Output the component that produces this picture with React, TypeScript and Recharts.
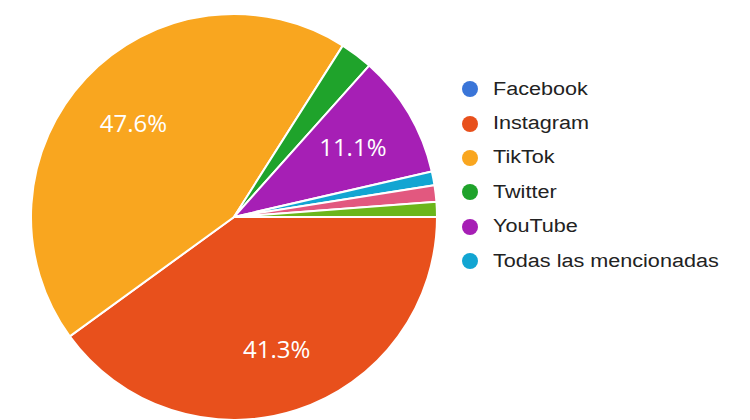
import { PieChart, Pie, Cell, Legend } from "recharts";

const names = ["Facebook", "Instagram", "TikTok", "Twitter", "YouTube", "Todas las mencionadas", "Otra", "Ninguna"];
const values = [0, 40.0, 44.0, 2.6, 9.8, 1.1, 1.3, 1.2];
const sliceLabels = ["", "41.3%", "47.6%", "", "11.1%", "", "", ""];
const colors = ["#3a75d8", "#e8501c", "#f9a61f", "#1fa32b", "#a61fb5", "#12a5d2", "#e2587f", "#6cb61b"];
const legendCount = 6;

const data = names.map((name, i) => ({ name, value: values[i], label: sliceLabels[i] }));

const RAD = Math.PI / 180;

function renderLabel(props: any) {
    const { cx, cy, midAngle, outerRadius, index } = props;
    const text = sliceLabels[index];
    if (!text) return null;
    const r = outerRadius * 0.68;
    const x = cx + r * Math.cos(-midAngle * RAD);
    const y = cy + r * Math.sin(-midAngle * RAD);
    return (
        <text
            x={x}
            y={y}
            fill="#ffffff"
            textAnchor="middle"
            dominantBaseline="central"
            fontSize={24}
            fontFamily="'Open Sans', sans-serif"
        >
            {text}
        </text>
    );
}

function LegendList() {
    return (
        <div>
            {names.slice(0, legendCount).map((name, i) => (
                <div key={name} style={{ display: "flex", alignItems: "center", height: 34.4 }}>
                    <span
                        style={{
                            width: 16,
                            height: 16,
                            borderRadius: "50%",
                            background: colors[i],
                            display: "inline-block",
                            marginRight: 15,
                            flex: "none",
                        }}
                    />
                    <span
                        style={{
                            fontFamily: "'Liberation Sans', Arial, sans-serif",
                            fontSize: 18,
                            color: "#222",
                            display: "inline-block",
                            whiteSpace: "nowrap",
                            transform: "scaleX(1.2)",
                            transformOrigin: "left center",
                        }}
                    >
                        {name}
                    </span>
                </div>
            ))}
        </div>
    );
}

export default function App() {
    return (
        <div style={{ position: "absolute", left: 0, top: 0, background: "#fff" }}>
            <PieChart width={750} height={420}>
                <Pie
                    data={data}
                    dataKey="value"
                    nameKey="name"
                    cx={229}
                    cy={212}
                    outerRadius={203}
                    startAngle={0}
                    endAngle={-360}
                    stroke="#ffffff"
                    strokeWidth={2}
                    label={renderLabel}
                    labelLine={false}
                    isAnimationActive={false}
                >
                    {data.map((entry, index) => (
                        <Cell key={`cell-${index}`} fill={colors[index]} />
                    ))}
                </Pie>
                <Legend
                    layout="vertical"
                    content={() => <LegendList />}
                    wrapperStyle={{ left: 462, top: 72, width: 280 }}
                />
            </PieChart>
        </div>
    );
}
